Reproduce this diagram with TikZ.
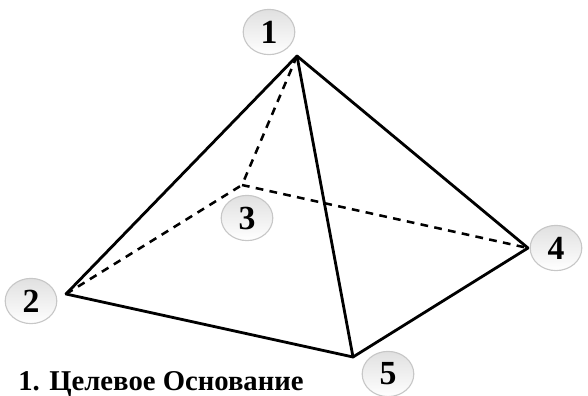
\documentclass[tikz,border=0pt]{standalone}
\usepackage{fontspec}
\setmainfont{Liberation Serif}
\usepackage{xcolor}
\usepackage{tikz}
\usetikzlibrary{shapes.geometric}

\begin{document}
\begin{tikzpicture}[
  x=0.025cm,y=-0.025cm,
  badge/.style={ellipse,draw=black!22,line width=0.8pt,top color=black!12,bottom color=white,minimum width=1.29cm,minimum height=1.13cm,inner sep=0pt,font=\bfseries\fontsize{24}{24}\selectfont},
  edge/.style={line width=2pt,line cap=round},
  hidden/.style={line width=1.8pt,dash pattern=on 5.5pt off 4.5pt}
]
  \useasboundingbox (0,0) rectangle (588,396);
  \coordinate (v1) at (297,56);
  \coordinate (v2) at (66,294);
  \coordinate (v3) at (242,185);
  \coordinate (v4) at (528,248);
  \coordinate (v5) at (353,357);
  \draw[hidden] (v1) -- (v3);
  \draw[hidden] (v2) -- (v3);
  \draw[hidden] (v3) -- (v4);
  \draw[edge] (v1) -- (v2);
  \draw[edge] (v1) -- (v4);
  \draw[edge] (v1) -- (v5);
  \draw[edge] (v2) -- (v5);
  \draw[edge] (v5) -- (v4);
  \node[badge] (b1) at (269,32) {1};
  \node[badge] (b2) at (31,301) {2};
  \node[badge] (b3) at (247,218) {3};
  \node[badge] (b4) at (556,248) {4};
  \node[badge] (b5) at (388,374) {5};
  \node[anchor=base west,inner sep=0pt,font=\bfseries\fontsize{20.4}{20.4}\selectfont] (title) at (18,390.5) {1. Целевое Основание};
\end{tikzpicture}
\end{document}
